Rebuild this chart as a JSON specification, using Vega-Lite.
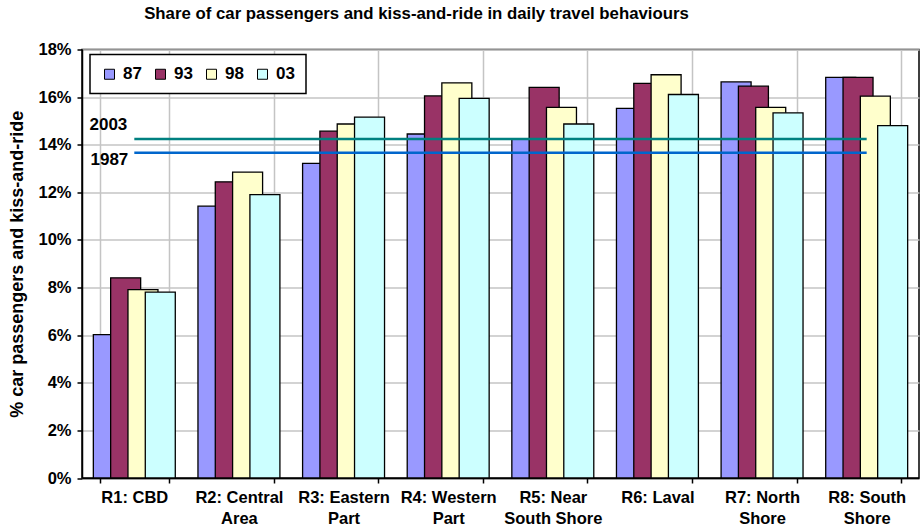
{
  "$schema": "https://vega.github.io/schema/vega-lite/v6.json",
  "width": 837,
  "height": 428.5,
  "autosize": {"type": "none"},
  "padding": {"left": 82, "top": 49.5, "right": 2, "bottom": 50},
  "background": "white",
  "title": {
    "text": "Share of car passengers and kiss-and-ride in daily travel behaviours",
    "anchor": "middle",
    "frame": "group",
    "dx": -84,
    "offset": 19,
    "fontSize": 16.8,
    "fontWeight": "bold",
    "font": "Liberation Sans",
    "color": "black"
  },
  "config": {
    "font": "Liberation Sans",
    "view": {"stroke": "black", "strokeWidth": 1.5},
    "axis": {
      "labelFont": "Liberation Sans",
      "labelFontWeight": "bold",
      "labelColor": "black",
      "labelFontSize": 16.5,
      "tickColor": "black",
      "tickSize": 5,
      "tickWidth": 1.5,
      "domainColor": "black",
      "domainWidth": 1.5,
      "grid": true,
      "gridColor": "#C4C4C4",
      "gridWidth": 1.5,
      "labelPadding": 6
    },
    "legend": {
      "orient": "none",
      "legendX": 8,
      "legendY": 5,
      "direction": "horizontal",
      "columns": 4,
      "symbolType": "square",
      "symbolSize": 100,
      "symbolStrokeColor": "black",
      "symbolStrokeWidth": 1,
      "labelFontSize": 17,
      "labelFontWeight": "bold",
      "labelColor": "black",
      "labelFont": "Liberation Sans",
      "labelOffset": 5,
      "columnPadding": 10,
      "strokeColor": "black",
      "strokeWidth": 1.5,
      "fillColor": "white",
      "padding": 11
    }
  },
  "datasets": {
    "bars": [
      {"region": "R1: CBD", "year": "87", "value": 6.02},
      {"region": "R1: CBD", "year": "93", "value": 8.41},
      {"region": "R1: CBD", "year": "98", "value": 7.91},
      {"region": "R1: CBD", "year": "03", "value": 7.81},
      {"region": "R2: Central Area", "year": "87", "value": 11.42},
      {"region": "R2: Central Area", "year": "93", "value": 12.44},
      {"region": "R2: Central Area", "year": "98", "value": 12.85},
      {"region": "R2: Central Area", "year": "03", "value": 11.9},
      {"region": "R3: Eastern Part", "year": "87", "value": 13.22},
      {"region": "R3: Eastern Part", "year": "93", "value": 14.57},
      {"region": "R3: Eastern Part", "year": "98", "value": 14.87},
      {"region": "R3: Eastern Part", "year": "03", "value": 15.16},
      {"region": "R4: Western Part", "year": "87", "value": 14.45},
      {"region": "R4: Western Part", "year": "93", "value": 16.05},
      {"region": "R4: Western Part", "year": "98", "value": 16.6},
      {"region": "R4: Western Part", "year": "03", "value": 15.95},
      {"region": "R5: Near South Shore", "year": "87", "value": 14.25},
      {"region": "R5: Near South Shore", "year": "93", "value": 16.41},
      {"region": "R5: Near South Shore", "year": "98", "value": 15.57},
      {"region": "R5: Near South Shore", "year": "03", "value": 14.87},
      {"region": "R6: Laval", "year": "87", "value": 15.53},
      {"region": "R6: Laval", "year": "93", "value": 16.58},
      {"region": "R6: Laval", "year": "98", "value": 16.94},
      {"region": "R6: Laval", "year": "03", "value": 16.11},
      {"region": "R7: North Shore", "year": "87", "value": 16.64},
      {"region": "R7: North Shore", "year": "93", "value": 16.46},
      {"region": "R7: North Shore", "year": "98", "value": 15.57},
      {"region": "R7: North Shore", "year": "03", "value": 15.34},
      {"region": "R8: South Shore", "year": "87", "value": 16.83},
      {"region": "R8: South Shore", "year": "93", "value": 16.83},
      {"region": "R8: South Shore", "year": "98", "value": 16.04},
      {"region": "R8: South Shore", "year": "03", "value": 14.8}
    ],
    "lines": [
      {"series": "2003", "region": "R1: CBD", "value": 14.24},
      {"series": "2003", "region": "R2: Central Area", "value": 14.24},
      {"series": "2003", "region": "R3: Eastern Part", "value": 14.24},
      {"series": "2003", "region": "R4: Western Part", "value": 14.24},
      {"series": "2003", "region": "R5: Near South Shore", "value": 14.24},
      {"series": "2003", "region": "R6: Laval", "value": 14.24},
      {"series": "2003", "region": "R7: North Shore", "value": 14.24},
      {"series": "2003", "region": "R8: South Shore", "value": 14.24},
      {"series": "1987", "region": "R1: CBD", "value": 13.66},
      {"series": "1987", "region": "R2: Central Area", "value": 13.66},
      {"series": "1987", "region": "R3: Eastern Part", "value": 13.66},
      {"series": "1987", "region": "R4: Western Part", "value": 13.66},
      {"series": "1987", "region": "R5: Near South Shore", "value": 13.66},
      {"series": "1987", "region": "R6: Laval", "value": 13.66},
      {"series": "1987", "region": "R7: North Shore", "value": 13.66},
      {"series": "1987", "region": "R8: South Shore", "value": 13.66}
    ]
  },
  "layer": [
    {
      "data": {"name": "bars"},
      "mark": {"type": "bar", "width": 30, "stroke": "black", "strokeWidth": 1.3},
      "encoding": {
        "x": {
          "field": "region",
          "type": "nominal",
          "sort": null,
          "scale": {"paddingInner": 0.338, "paddingOuter": 0.169},
          "axis": {
            "title": null,
            "labelAngle": 0,
            "tickBand": "extent",
            "labelLineHeight": 21,
            "labelBaseline": "top",
            "labelExpr": "length(split(datum.value, ' ')) > 2 ? [join(slice(split(datum.value, ' '), 0, 2), ' '), join(slice(split(datum.value, ' '), 2), ' ')] : datum.value"
          }
        },
        "xOffset": {
          "field": "year",
          "type": "nominal",
          "sort": ["87", "93", "98", "03"]
        },
        "y": {
          "field": "value",
          "type": "quantitative",
          "scale": {"domain": [0, 18], "nice": false},
          "axis": {
            "title": "% car passengers and kiss-and-ride",
            "values": [0, 2, 4, 6, 8, 10, 12, 14, 16, 18],
            "labelExpr": "datum.value + '%'",
            "titleFontSize": 18,
            "titleFontWeight": "bold",
            "titleColor": "black",
            "titleFont": "Liberation Sans",
            "titleX": -65,
            "titleY": 214.25,
            "titleAngle": -90,
            "titleAlign": "center",
            "titleBaseline": "middle"
          }
        },
        "color": {
          "field": "year",
          "type": "nominal",
          "scale": {"domain": ["87", "93", "98", "03"], "range": ["#9999FF", "#993366", "#FFFFCC", "#CCFFFF"]},
          "legend": {"title": null}
        }
      }
    },
    {
      "data": {"name": "lines"},
      "transform": [{"filter": "datum.series == '2003'"}],
      "mark": {"type": "line", "color": "#008080", "strokeWidth": 2.5},
      "encoding": {
        "x": {"field": "region", "type": "nominal", "sort": null},
        "y": {"field": "value", "type": "quantitative"}
      }
    },
    {
      "data": {"name": "lines"},
      "transform": [{"filter": "datum.series == '1987'"}],
      "mark": {"type": "line", "color": "#0066CC", "strokeWidth": 2.5},
      "encoding": {
        "x": {"field": "region", "type": "nominal", "sort": null},
        "y": {"field": "value", "type": "quantitative"}
      }
    },
    {
      "data": {"name": "lines"},
      "transform": [{"filter": "datum.series == '2003' && datum.region == 'R1: CBD'"}],
      "mark": {"type": "text", "align": "right", "baseline": "middle", "dx": -7, "dy": -14, "fontSize": 17, "fontWeight": "bold", "color": "black", "font": "Liberation Sans"},
      "encoding": {
        "x": {"field": "region", "type": "nominal", "sort": null},
        "y": {"field": "value", "type": "quantitative"},
        "text": {"field": "series"}
      }
    },
    {
      "data": {"name": "lines"},
      "transform": [{"filter": "datum.series == '1987' && datum.region == 'R1: CBD'"}],
      "mark": {"type": "text", "align": "right", "baseline": "middle", "dx": -6, "dy": 7, "fontSize": 17, "fontWeight": "bold", "color": "black", "font": "Liberation Sans"},
      "encoding": {
        "x": {"field": "region", "type": "nominal", "sort": null},
        "y": {"field": "value", "type": "quantitative"},
        "text": {"field": "series"}
      }
    }
  ]
}
